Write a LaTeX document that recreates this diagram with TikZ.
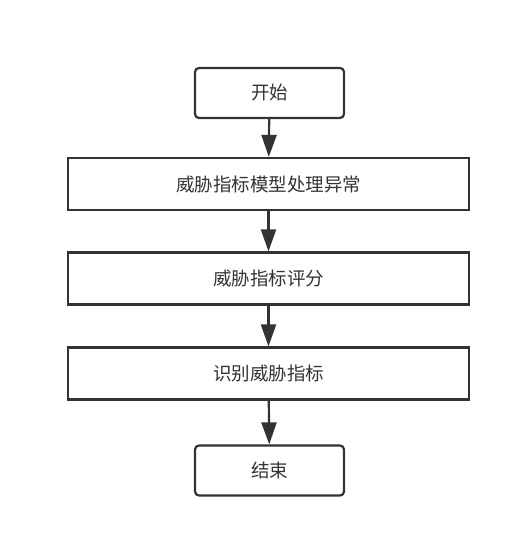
\documentclass[tikz,border=0pt]{standalone}
\usepackage{fontspec}
\newfontfamily\cjk{Noto Sans CJK SC}
\usetikzlibrary{arrows.meta}
\definecolor{ink}{HTML}{333333}
\begin{document}
\begin{tikzpicture}[x=1pt,y=1pt,
  termbox/.style={draw=ink,line width=2.2pt,rounded corners=4pt,minimum width=149pt,minimum height=50pt,inner sep=0pt,font=\cjk\fontsize{18.5}{20}\selectfont,text=ink},
  procbox/.style={draw=ink,line width=2.2pt,minimum width=401pt,minimum height=52pt,inner sep=0pt,font=\cjk\fontsize{18.5}{20}\selectfont,text=ink},
  flow/.style={draw=ink,line width=2.2pt,-{Triangle[length=22pt,width=15pt]}}]
\useasboundingbox (0,0) rectangle (514,539);
\fill[white] (0,0) rectangle (514,539);
\node[termbox] (start) at (269.5,{539-93}) {开始};
\node[procbox] (p1) at (268.5,{539-184}) {威胁指标模型处理异常};
\node[procbox] (p2) at (268.5,{539-278.5}) {威胁指标评分};
\node[procbox] (p3) at (268.5,{539-373.5}) {识别威胁指标};
\node[termbox] (end) at (269.5,{539-470.5}) {结束};
\draw[flow] (start) -- (p1);
\draw[flow] (p1) -- (p2);
\draw[flow] (p2) -- (p3);
\draw[flow] (p3) -- (end);
\end{tikzpicture}
\end{document}
